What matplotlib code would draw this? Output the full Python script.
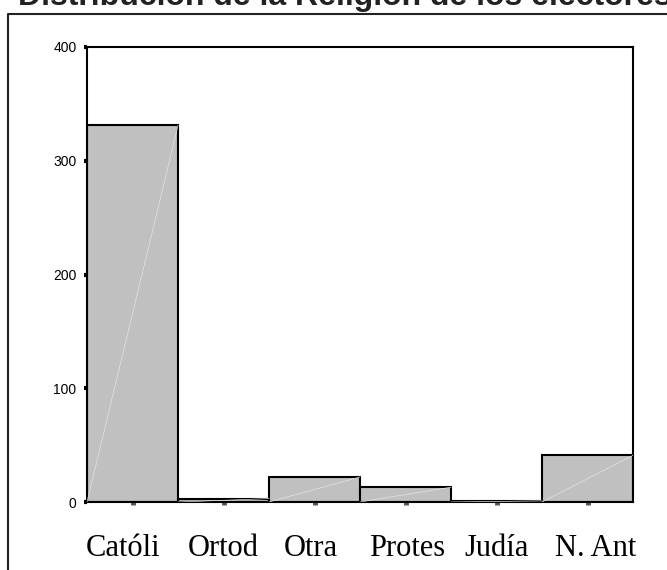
import matplotlib.pyplot as plt
from matplotlib.lines import Line2D
from matplotlib.transforms import ScaledTranslation

titulo = 'Distribución de la Religión de los electores'
religiones = ['Católi', 'Ortod', 'Otra', 'Protes', 'Judía', 'N. Ant']
frecuencias = [331, 3, 22, 13, 1, 41]
yticks = [0, 100, 200, 300, 400]

fig = plt.figure(figsize=(6.67, 5.70), dpi=100)
ax = fig.add_axes([87/667, 1 - 502/570, (633 - 87)/667, (502 - 47)/570])

x = list(range(len(religiones)))
ax.bar(x, frecuencias, width=1.0, color='#c0c0c0', edgecolor='black', linewidth=1.5, zorder=2)
# la linea diagonal clara dentro de cada barra
for xi, h in zip(x, frecuencias):
    ax.plot([xi - 0.5, xi + 0.5], [0, h], color='#e4e4e4', lw=0.5, zorder=3)

ax.set_xlim(-0.5, len(religiones) - 0.5)
ax.set_ylim(0, 400)
ax.set_yticks(yticks)
ax.set_yticklabels([str(v) for v in yticks], fontsize=10, family='Liberation Sans')
ax.set_xticks(x)
ax.set_xticklabels([])

# etiquetas del eje x como textos, con pequeños desplazamientos (px)
despl = [-9, 0, -4, 2, 0, 8]
base = ax.get_xaxis_transform()
for xi, lab, d in zip(x, religiones, despl):
    tr = base + ScaledTranslation(d/100, -54/100, fig.dpi_scale_trans)
    ax.text(xi, 0, lab, transform=tr, fontsize=22, family='Liberation Serif',
            ha='center', va='baseline', clip_on=False)

ax.tick_params(axis='y', direction='out', length=2.5, width=3, color='black', pad=5)
ax.tick_params(axis='x', direction='out', length=2, width=3.5, color='#555555')

for s in ax.spines.values():
    s.set_linewidth(1.5)
    s.set_color('black')

# marco exterior
fig.add_artist(Line2D([8/667, 8/667, 1.0], [0.0, 1 - 14/570, 1 - 14/570],
                      transform=fig.transFigure, color='#222222', lw=1.5))

fig.text(18/667, 1 - 5/570, titulo, fontsize=23, fontweight='bold',
         family='Liberation Sans', color='#222222', va='baseline', ha='left')

fig.savefig('out.png', dpi=100)
